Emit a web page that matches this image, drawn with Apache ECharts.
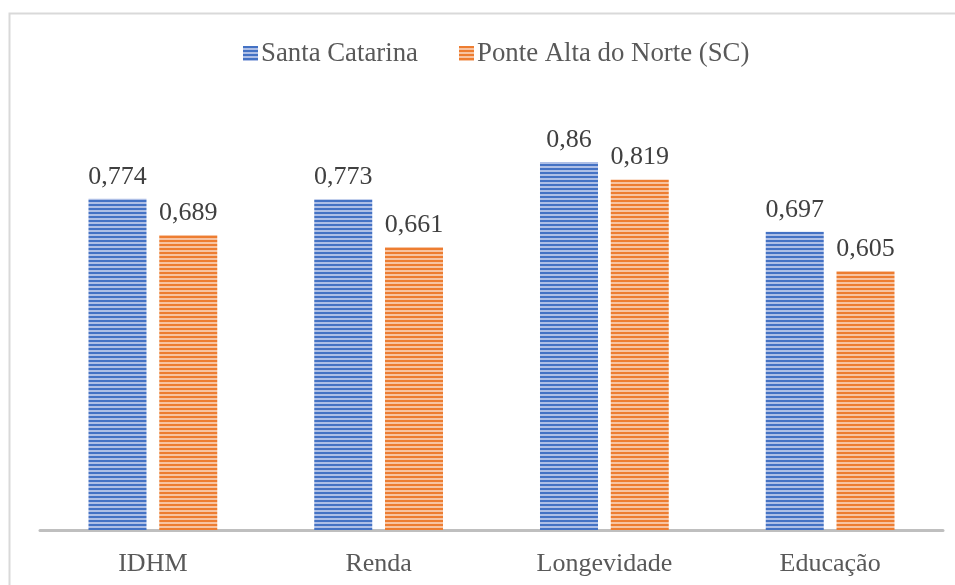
<!DOCTYPE html>
<html><head><meta charset="utf-8">
<script src="https://cdn.jsdelivr.net/npm/echarts@6/dist/echarts.min.js"></script>
<style>html,body{margin:0;padding:0;background:#fff}#c{width:955px;height:585px}</style>
</head><body><div id="c"></div>
<script>
const categories = ['IDHM', 'Renda', 'Longevidade', 'Educação'];
const seriesNames = ['Santa Catarina', 'Ponte Alta do Norte (SC)'];
const santaCatarina = [0.774, 0.773, 0.86, 0.697];
const ponteAlta = [0.689, 0.661, 0.819, 0.605];

function stripes(dark, light) {
  const c = document.createElement('canvas');
  c.width = 4; c.height = 4;
  const g = c.getContext('2d');
  g.fillStyle = light; g.fillRect(0, 0, 4, 4);
  g.fillStyle = dark; g.fillRect(0, 0, 4, 2);
  return { image: c, repeat: 'repeat' };
}
const bluePat = stripes('#4472c4', '#aebfe6');
const orangePat = stripes('#ed7d31', '#f7c4a2');
const fmt = p => String(p.value).replace('.', ',');
const font = '"Liberation Serif", "Times New Roman", serif';

const chart = echarts.init(document.getElementById('c'));
chart.setOption({
  animation: false,
  textStyle: { fontFamily: font },
  graphic: [{
    type: 'polyline', shape: { points: [[9.5, 600], [9.5, 13.5], [960, 13.5]] },
    style: { stroke: '#d9d9d9', lineWidth: 2, fill: null }
  }],
  legend: {
    top: 35, left: 238, itemWidth: 15, itemHeight: 15, itemGap: 41, icon: 'rect',
    textStyle: { fontFamily: font, fontSize: 26.8, color: '#595959', padding: [0, 0, 0, -2] },
    data: [{ name: seriesNames[0], itemStyle: { color: bluePat } }, { name: seriesNames[1], itemStyle: { color: orangePat } }]
  },
  grid: { left: 40, right: 12, top: 102, bottom: 55 },
  xAxis: {
    type: 'category', data: categories,
    axisLine: { lineStyle: { color: '#bfbfbf', width: 3 } },
    axisTick: { show: false },
    axisLabel: { fontFamily: font, fontSize: 26, color: '#595959', margin: 21 }
  },
  yAxis: { type: 'value', min: 0, max: 1, show: false, splitLine: { show: false } },
  series: [
    { name: seriesNames[0], type: 'bar', data: santaCatarina, barWidth: 58, barGap: '22%',
      itemStyle: { color: bluePat },
      label: { show: true, position: 'top', distance: 9, formatter: fmt, fontFamily: font, fontSize: 26, color: '#404040' } },
    { name: seriesNames[1], type: 'bar', data: ponteAlta, barWidth: 58,
      itemStyle: { color: orangePat },
      label: { show: true, position: 'top', distance: 9, formatter: fmt, fontFamily: font, fontSize: 26, color: '#404040' } }
  ]
});
</script></body></html>
